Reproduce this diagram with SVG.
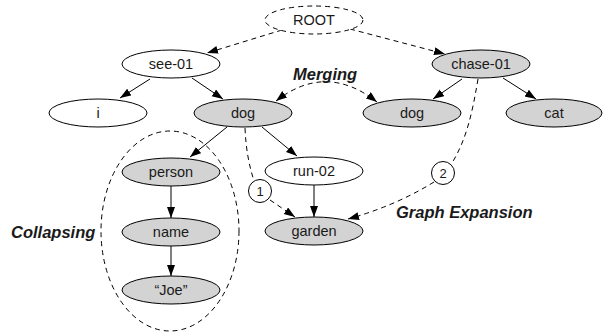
<svg xmlns="http://www.w3.org/2000/svg" width="603" height="332" viewBox="0 0 603 332">
<style>
.n{stroke:#000;stroke-width:1}
.w{fill:#fff}
.g{fill:#d3d3d3}
.t{font-family:"Liberation Sans",Arial,sans-serif;font-size:14.5px;text-anchor:middle;fill:#1a1a1a}
.c{font-family:"Liberation Sans",Arial,sans-serif;font-size:13px;text-anchor:middle;fill:#1a1a1a}
.lab{font-family:"Liberation Sans",Arial,sans-serif;font-size:16.5px;font-weight:bold;font-style:italic;fill:#1a1a1a}
.e{fill:none;stroke:#000;stroke-width:1}
.d{stroke-dasharray:5,4}
</style>
<defs>
<marker id="a" markerUnits="userSpaceOnUse" markerWidth="12" markerHeight="9" refX="11" refY="4" orient="auto-start-reverse">
<path d="M0,0 L11,4 L0,8 z" fill="#000"/>
</marker>
</defs>
<g id="collapse-group">
<ellipse cx="170" cy="231" rx="69" ry="100" fill="none" stroke="#000" stroke-width="1" stroke-dasharray="5,4"/>
</g>
<g id="connectors">
<path class="e d" d="M282,30 L207,53" marker-end="url(#a)"/>
<path class="e d" d="M350,29 L445,54" marker-end="url(#a)"/>
<path class="e" d="M150,79 L120,98" marker-end="url(#a)"/>
<path class="e" d="M192,78 L223,99" marker-end="url(#a)"/>
<path class="e" d="M462,79 L433,99" marker-end="url(#a)"/>
<path class="e" d="M503,78 L536,99" marker-end="url(#a)"/>
<path class="e" d="M227,127 L190,157" marker-end="url(#a)"/>
<path class="e" d="M262,127 L297,156" marker-end="url(#a)"/>
<path class="e" d="M171,186 L171,218" marker-end="url(#a)"/>
<path class="e" d="M171,246 L171,276" marker-end="url(#a)"/>
<path class="e" d="M314,185 L314,217" marker-end="url(#a)"/>
<path class="e d" d="M276,101 Q326,62 377,102" marker-start="url(#a)" marker-end="url(#a)"/>
<path class="e d" d="M245,128 C246,150 249,165 254,181"/>
<path class="e d" d="M270,200 L295,217" marker-end="url(#a)"/>
<path class="e d" d="M478,79 C472,115 466,140 452,163"/>
<path class="e d" d="M434,182 Q395,206 348,219" marker-end="url(#a)"/>
</g>
<g id="ROOT"><ellipse class="n w d" cx="314" cy="20" rx="49" ry="14"/><text class="t" x="314" y="25">ROOT</text></g>
<g id="see-01"><ellipse class="n w" cx="171" cy="64" rx="49" ry="14"/><text class="t" x="171" y="69">see-01</text></g>
<g id="chase-01"><ellipse class="n g" cx="481" cy="64" rx="49" ry="14"/><text class="t" x="481" y="69">chase-01</text></g>
<g id="i"><ellipse class="n w" cx="98" cy="113" rx="49" ry="14"/><text class="t" x="98" y="118">i</text></g>
<g id="dog1"><ellipse class="n g" cx="243" cy="113" rx="49" ry="14"/><text class="t" x="243" y="118">dog</text></g>
<g id="dog2"><ellipse class="n g" cx="412" cy="113" rx="49" ry="14"/><text class="t" x="412" y="118">dog</text></g>
<g id="cat"><ellipse class="n g" cx="554" cy="113" rx="48" ry="14"/><text class="t" x="554" y="118">cat</text></g>
<g id="person"><ellipse class="n g" cx="171" cy="172" rx="49" ry="14"/><text class="t" x="171" y="177">person</text></g>
<g id="run-02"><ellipse class="n w" cx="314" cy="171" rx="49" ry="14"/><text class="t" x="314" y="176">run-02</text></g>
<g id="name"><ellipse class="n g" cx="171" cy="232" rx="49" ry="14"/><text class="t" x="171" y="237">name</text></g>
<g id="garden"><ellipse class="n g" cx="314" cy="231" rx="49" ry="14"/><text class="t" x="314" y="236">garden</text></g>
<g id="joe"><ellipse class="n g" cx="171" cy="290" rx="49" ry="14"/><text class="t" x="171" y="295">“Joe”</text></g>
<g id="step1"><circle class="n w" cx="260" cy="191" r="11.5"/><text class="c" x="260" y="195.5">1</text></g>
<g id="step2"><circle class="n w" cx="443" cy="173" r="11.5"/><text class="c" x="443" y="177.5">2</text></g>
<g id="labels">
<text class="lab" x="293" y="80">Merging</text>
<text class="lab" x="11" y="238">Collapsing</text>
<text class="lab" x="396" y="218">Graph Expansion</text>
</g>
</svg>
